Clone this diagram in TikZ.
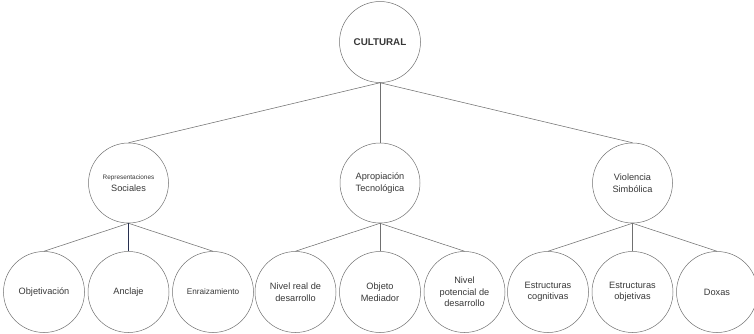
\documentclass[tikz,border=0pt]{standalone}
\usepackage{fontspec}
\setmainfont{Liberation Sans}
\usetikzlibrary{positioning}
\definecolor{edgegray}{RGB}{112,112,112}
\definecolor{textgray}{RGB}{55,55,55}
\definecolor{anchorblue}{RGB}{40,48,80}

\begin{document}
\begin{tikzpicture}[
    x=1pt, y=1pt,
    every node/.style={font=\fontsize{9.2}{11.5}\selectfont, text=textgray},
    concept/.style={circle, draw=edgegray, line width=0.5pt, minimum size=#1, inner sep=0pt, align=center},
    concept/.default=80pt,
    link/.style={edgegray, line width=0.55pt}
]
\useasboundingbox (0,0) rectangle (754,-333);

% root
\node[concept=81pt, font=\fontsize{9.8}{11}\selectfont\bfseries] (cultural) at (380,-42) {CULTURAL};

% second level
\node[concept, below=60pt of cultural] (apropiacion) {Apropiación\\Tecnológica};
\node[concept, left=171pt of apropiacion] (representaciones) {{\fontsize{6.4}{8}\selectfont Representaciones}\\Sociales};
\node[concept, right=172pt of apropiacion] (violencia) {Violencia\\Simbólica};

% third level
\node[concept=81pt, below=28pt of representaciones] (anclaje) {Anclaje};
\node[concept=81pt, left=3pt of anclaje] (objetivacion) {Objetivación};
\node[concept=81pt, right=3pt of anclaje, font=\fontsize{8.2}{9}\selectfont] (enraizamiento) {Enraizamiento};

\node[concept=81pt, below=28pt of apropiacion] (objeto) {Objeto\\Mediador};
\node[concept=81pt, left=3pt of objeto] (nivelreal) {Nivel real de\\desarrollo};
\node[concept=81pt, right=3pt of objeto] (nivelpot) {Nivel\\potencial de\\desarrollo};

\node[concept=81pt, below=28pt of violencia] (estobj) {Estructuras\\objetivas};
\node[concept=81pt, left=3pt of estobj] (estcog) {Estructuras\\cognitivas};
\node[concept=81pt, right=3pt of estobj] (doxas) {Doxas};

% root -> second level
\foreach \child in {representaciones, apropiacion, violencia}
    \draw[link] (cultural.south) -- (\child.north);

% second level -> third level
\foreach \parent/\kids in {representaciones/{objetivacion,enraizamiento}, apropiacion/{nivelreal,objeto,nivelpot}, violencia/{estcog,estobj,doxas}}
    \foreach \child in \kids
        \draw[link] (\parent.south) -- (\child.north);
\draw[link, anchorblue] (representaciones.south) -- (anclaje.north);

\end{tikzpicture}
\end{document}
